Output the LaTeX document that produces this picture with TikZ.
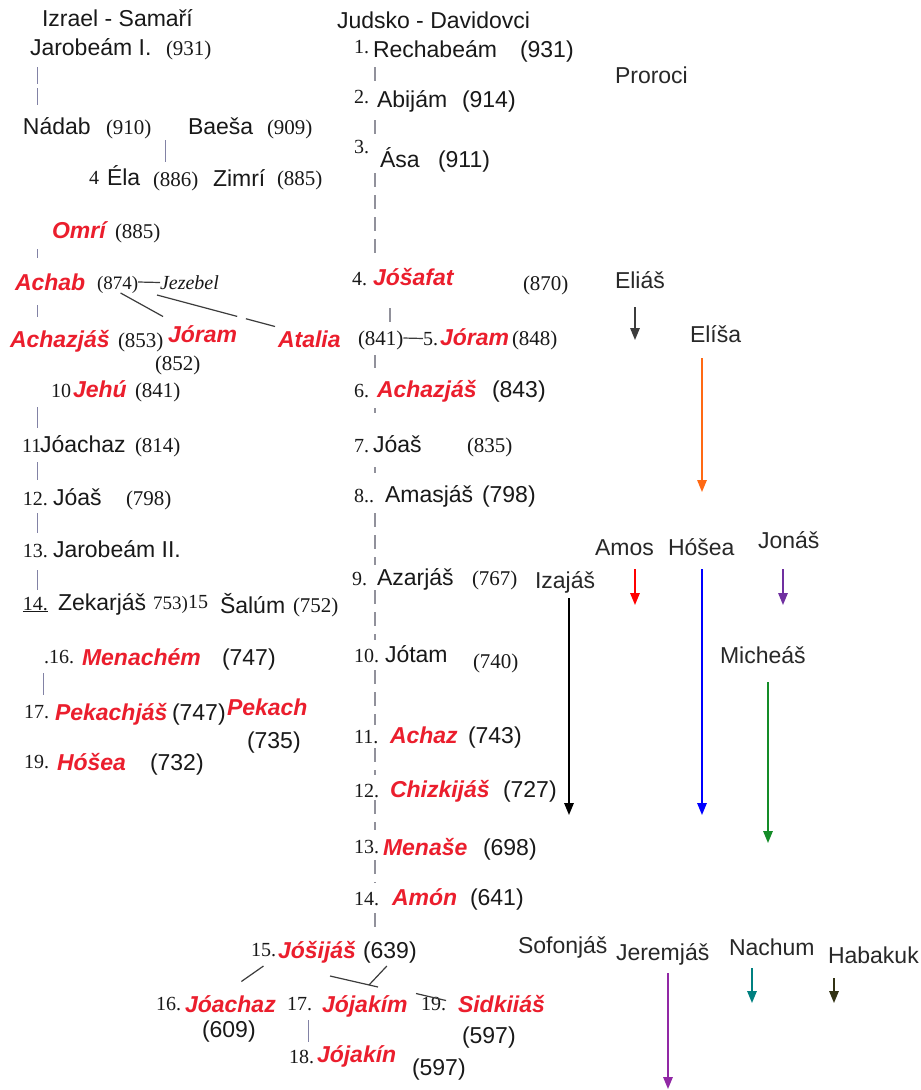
\documentclass[tikz,border=0pt]{standalone}
\usepackage{fontspec}
\setmainfont{Liberation Sans}
\newfontfamily\tms{Liberation Serif}
\usetikzlibrary{arrows.meta}
\definecolor{ink}{RGB}{25,25,25}
\definecolor{ink2}{RGB}{40,40,40}
\definecolor{kred}{RGB}{235,30,45}
\definecolor{tickc}{RGB}{130,130,165}
\definecolor{mline}{RGB}{145,145,155}
\definecolor{cnn}{RGB}{60,60,60}
\definecolor{corange}{RGB}{255,105,20}
\definecolor{cpurple}{RGB}{112,48,160}
\definecolor{cjer}{RGB}{145,40,165}
\definecolor{cgreen}{RGB}{20,140,40}
\definecolor{cteal}{RGB}{0,128,128}
\definecolor{colive}{RGB}{50,50,20}
\begin{document}
\begin{tikzpicture}[x=1pt,y=-1pt,
  every node/.style={anchor=base west,inner sep=0pt,outer sep=0pt},
  nm/.style={font=\fontsize{23}{27}\selectfont,text=ink,text height=16.5pt,text depth=0pt},
  ph/.style={nm,text=ink2},
  rd/.style={font=\fontsize{23}{27}\selectfont\bfseries\itshape,text=kred,text height=16.5pt,text depth=0pt},
  yr/.style={font=\tms\fontsize{21}{25}\selectfont,text=ink,text height=14pt,text depth=0pt},
  pr/.style={font=\tms\fontsize{20}{24}\selectfont,text=ink,text height=13pt,text depth=0pt},
  jz/.style={font=\tms\itshape\fontsize{20}{24}\selectfont,text=ink,text height=13pt,text depth=0pt},
  vt/.style={draw=tickc,line width=0.9pt},
  mv/.style={draw=mline,line width=1.1pt,dash pattern=on 14pt off 8pt},
  cn/.style={draw=cnn,line width=1.2pt},
  parr/.style={line width=1.5pt,-{Triangle[length=12pt,width=9.5pt]}}]
\fill[white] (0,0) rectangle (921,1090);
\useasboundingbox (0,0) rectangle (921,1090);

% headers
\node[nm] (hIs) at (42,26) {Izrael - Samaří};
\node[nm] (hJu) at (337,28) {Judsko - Davidovci};
\node[ph] (pror) at (615,83) {Proroci};

% Israel
\node[nm] (j1) at (30,55) {Jarobeám I.};
\node[yr] (j1y) at (166,55) {(931)};
\node[nm] (nad) at (23,134) {Nádab};
\node[yr] (nady) at (106,134) {(910)};
\node[nm] (bae) at (188,134) {Baeša};
\node[yr] (baey) at (267,134) {(909)};
\node[pr] (ela4) at (89,184) {4};
\node[nm] (ela) at (107,185) {Éla};
\node[yr] (elay) at (153,186) {(886)};
\node[nm] (zim) at (213,186) {Zimrí};
\node[yr] (zimy) at (277,185) {(885)};
\node[rd] (omri) at (52,238) {Omrí};
\node[yr] (omriy) at (115,238) {(885)};
\node[rd] (achab) at (15,290) {Achab};
\node[yr,font=\tms\fontsize{19}{23}\selectfont] (achaby) at (97,289) {(874)};
\node[jz] (jez) at (160,289) {Jezebel};
\node[rd] (achz) at (10,347) {Achazjáš};
\node[yr] (achzy) at (118,347) {(853)};
\node[rd] (joram) at (168,342) {Jóram};
\node[yr] (joramy) at (155,370) {(852)};
\node[rd] (atalia) at (278,347) {Atalia};
\node[yr] (atay) at (358,345) {(841)};
\node[pr] (jor5p) at (423,345) {5.};
\node[rd] (jor5) at (440,345) {Jóram};
\node[yr] (jor5y) at (512,345) {(848)};
\node[pr] (jehu10) at (51,397) {10};
\node[rd] (jehu) at (73,397) {Jehú};
\node[yr] (jehuy) at (135,397) {(841)};
\node[pr] (joach11) at (22,452) {11};
\node[nm] (joach) at (40,452) {Jóachaz};
\node[yr] (joachy) at (135,452) {(814)};
\node[pr] (joas12) at (23,505) {12.};
\node[nm] (joas) at (53,505) {Jóaš};
\node[yr] (joasy) at (126,505) {(798)};
\node[pr] (jar13) at (23,557) {13.};
\node[nm] (jar2) at (53,557) {Jarobeám II.};
\node[pr] (zek14) at (23,610) {\underline{14.}};
\node[nm] (zek) at (58,610) {Zekarjáš};
\node[yr,font=\tms\fontsize{19}{23}\selectfont] (zeky) at (153,609) {753)};
\node[pr] (sal15) at (188,608) {15};
\node[nm] (sal) at (220,613) {Šalúm};
\node[yr] (saly) at (293,612) {(752)};
\node[pr] (men16) at (44,663) {.16.};
\node[rd] (men) at (82,665) {Menachém};
\node[nm] (meny) at (222,665) {(747)};
\node[pr] (pek17) at (24,718) {17.};
\node[rd] (pek) at (55,720) {Pekachjáš};
\node[nm] (peky) at (172,720) {(747)};
\node[rd] (pekach) at (227,715) {Pekach};
\node[nm] (pekachy) at (247,748) {(735)};
\node[pr] (hos19) at (24,768) {19.};
\node[rd] (hos) at (57,770) {Hóšea};
\node[nm] (hosy) at (150,770) {(732)};

% Judah
\node[pr] (r1p) at (354,53) {1.};
\node[nm] (r1) at (373,57) {Rechabeám};
\node[nm] (r1y) at (520,57) {(931)};
\node[pr] (r2p) at (354,103) {2.};
\node[nm] (r2) at (377,107) {Abijám};
\node[nm] (r2y) at (462,107) {(914)};
\node[pr] (r3p) at (354,153) {3.};
\node[nm] (r3) at (380,167) {Ása};
\node[nm] (r3y) at (438,167) {(911)};
\node[pr] (r4p) at (352,285) {4.};
\node[rd] (r4) at (373,285) {Jóšafat};
\node[yr] (r4y) at (523,290) {(870)};
\node[pr] (r6p) at (354,397) {6.};
\node[rd] (r6) at (377,397) {Achazjáš};
\node[nm] (r6y) at (492,397) {(843)};
\node[pr] (r7p) at (354,452) {7.};
\node[nm] (r7) at (373,452) {Jóaš};
\node[yr] (r7y) at (467,452) {(835)};
\node[pr] (r8p) at (354,502) {8..};
\node[nm] (r8) at (385,502) {Amasjáš};
\node[nm] (r8y) at (482,502) {(798)};
\node[pr] (r9p) at (352,585) {9.};
\node[nm] (r9) at (377,585) {Azarjáš};
\node[yr] (r9y) at (472,585) {(767)};
\node[pr] (r10p) at (354,662) {10.};
\node[nm] (r10) at (385,662) {Jótam};
\node[yr] (r10y) at (473,668) {(740)};
\node[pr] (r11p) at (354,743) {11.};
\node[rd] (r11) at (390,743) {Achaz};
\node[nm] (r11y) at (468,743) {(743)};
\node[pr] (r12p) at (354,797) {12.};
\node[rd] (r12) at (390,797) {Chizkijáš};
\node[nm] (r12y) at (503,797) {(727)};
\node[pr] (r13p) at (354,853) {13.};
\node[rd] (r13) at (383,855) {Menaše};
\node[nm] (r13y) at (483,855) {(698)};
\node[pr] (r14p) at (354,905) {14.};
\node[rd] (r14) at (392,905) {Amón};
\node[nm] (r14y) at (470,905) {(641)};
\node[pr] (r15p) at (251,956) {15.};
\node[rd] (r15) at (278,958) {Jóšijáš};
\node[nm] (r15y) at (363,958) {(639)};
\node[pr] (r16p) at (156,1010) {16.};
\node[rd] (r16) at (185,1012) {Jóachaz};
\node[nm] (r16y) at (202,1037) {(609)};
\node[pr] (r17p) at (287,1010) {17.};
\node[rd] (r17) at (322,1012) {Jójakím};
\node[pr] (r19p) at (421,1010) {19.};
\node[rd] (r19) at (458,1012) {Sidkiiáš};
\node[nm] (r19y) at (462,1043) {(597)};
\node[pr] (r18p) at (289,1063) {18.};
\node[rd] (r18) at (317,1062) {Jójakín};
\node[nm] (r18y) at (412,1075) {(597)};

% prophets
\node[ph] (eli) at (615,288) {Eliáš};
\node[ph] (elisa) at (690,342) {Elíša};
\node[ph] (amos) at (595,555) {Amos};
\node[ph] (hosea) at (668,555) {Hóšea};
\node[ph] (jonas) at (758,548) {Jonáš};
\node[ph] (iza) at (535,588) {Izajáš};
\node[ph] (mich) at (720,663) {Micheáš};
\node[ph] (sof) at (518,953) {Sofonjáš};
\node[ph] (jer) at (616,960) {Jeremjáš};
\node[ph] (nach) at (729,955) {Nachum};
\node[ph] (hab) at (828,963) {Habakuk};

% column coordinates
\coordinate (Lx) at (37,0);
\coordinate (Lx2) at (43,0);
\coordinate (Bx) at (165,0);
\coordinate (Mx) at (375,0);
\coordinate (Mx2) at (390,0);
\coordinate (Jx) at (308,0);

% Israel ticks
\draw[vt,dash pattern=on 17pt off 4pt,shorten <=12pt,shorten >=13pt] (j1.south -| Lx) -- (nad.north -| Lx);
\draw[vt,shorten <=6pt,shorten >=10pt] (bae.south -| Bx) -- (elay.north -| Bx);
\draw[vt,shorten <=11pt,shorten >=16pt] (omri.south -| Lx) -- (achab.north -| Lx);
\draw[vt,shorten <=15pt,shorten >=14pt] (achab.south -| Lx) -- (achz.north -| Lx);
\draw[vt,shorten <=10pt,shorten >=8pt] (jehu.south -| Lx) -- (joach.north -| Lx);
\draw[vt,shorten <=10pt,shorten >=9pt] (joach.south -| Lx) -- (joas.north -| Lx);
\draw[vt,shorten <=8pt,shorten >=8pt] (joas.south -| Lx) -- (jar2.north -| Lx);
\draw[vt,shorten <=13pt,shorten >=4pt] (jar2.south -| Lx) -- (zek.north -| Lx);
\draw[vt,shorten <=8pt,shorten >=9pt] (men.south -| Lx2) -- (pek.north -| Lx2);

% Judah line
\draw[mv,shorten <=10pt,shorten >=9pt] (r1.south -| Mx) -- (r2.north -| Mx);
\draw[mv,shorten <=13pt,shorten >=14pt] (r2.south -| Mx) -- (r3.north -| Mx);
\draw[mv,shorten <=6pt,shorten >=9pt] (r3.south -| Mx) -- (r4.north -| Mx);
\draw[mv,shorten <=23pt,shorten >=9pt] (r4.south -| Mx2) -- (atay.north -| Mx2);
\draw[mv,shorten <=10pt,shorten >=13pt] (atay.south -| Mx) -- (r6.north -| Mx);
\draw[mv,shorten <=11pt,shorten >=23pt] (r6.south -| Mx) -- (r7.north -| Mx);
\draw[mv,shorten <=15pt,shorten >=13pt] (r7.south -| Mx) -- (r8.north -| Mx);
\draw[mv,shorten <=11pt,shorten >=4pt] (r8.south -| Mx) -- (r9.north -| Mx);
\draw[mv,shorten <=5pt,shorten >=6pt] (r9.south -| Mx) -- (r10.north -| Mx);
\draw[mv,shorten <=8pt,shorten >=2pt] (r10.south -| Mx) -- (r11.north -| Mx);
\draw[mv,shorten <=5pt,shorten >=6pt] (r11.south -| Mx) -- (r12.north -| Mx);
\draw[mv,shorten <=3pt,shorten >=9pt] (r12.south -| Mx) -- (r13.north -| Mx);
\draw[mv,shorten <=5pt,shorten >=6pt] (r13.south -| Mx) -- (r14.north -| Mx);
\draw[mv,shorten <=8pt,shorten >=10pt] (r14.south -| Mx) -- (r15y.north -| Mx);
\draw[vt,shorten <=10pt,shorten >=8pt] (r17p.south -| Jx) -- (r18p.north -| Jx);

% family connectors
\draw[cn] (achaby.east) -- (jez.west);
\draw[cn] (atay.east) -- (jor5p.west);
\draw[cn] ([xshift=3pt,yshift=-4pt]achaby.south) -- ([xshift=-5pt,yshift=9pt]joram.north west);
\draw[cn,dash pattern=on 83pt off 9pt on 60pt] ([xshift=-3pt,yshift=-6pt]jez.south west) -- ([xshift=-3pt,yshift=4pt]atalia.north west);
\draw[cn] ([yshift=-10pt]r15p.south) -- ([xshift=11pt,yshift=14pt]r16.north);
\coordinate (jn) at (369,985);
\coordinate (jc) at (330,976);
\coordinate (jn2) at (378,987);
\draw[cn] ([xshift=-3pt,yshift=-8pt]r15y.south) -- (jn);
\draw[cn] (jc) -- (jn2);
\draw[cn] ([xshift=-5pt,yshift=10pt]r19p.west) -- ([yshift=3pt]r19p.east);

% prophet arrows
\coordinate (aEli) at (635,340);
\draw[parr,color=cnn,shorten <=19pt] (eli.south -| aEli) -- (aEli);
\coordinate (aEls) at (702,492);
\draw[parr,color=corange,shorten <=16pt] (elisa.south -| aEls) -- (aEls);
\coordinate (aAm) at (635,605);
\draw[parr,color=red,shorten <=14pt] (amos.south -| aAm) -- (aAm);
\coordinate (aHo) at (702,815);
\draw[parr,color=blue,shorten <=14pt] (hosea.south -| aHo) -- (aHo);
\coordinate (aJo) at (783,605);
\draw[parr,color=cpurple,shorten <=21pt] (jonas.south -| aJo) -- (aJo);
\coordinate (aIz) at (569,815);
\draw[parr,color=black,shorten <=10pt] (iza.south -| aIz) -- (aIz);
\coordinate (aMi) at (768,843);
\draw[parr,color=cgreen,shorten <=19pt] (mich.south -| aMi) -- (aMi);
\coordinate (aJe) at (668,1089);
\draw[parr,color=cjer,shorten <=13pt] (jer.south -| aJe) -- (aJe);
\coordinate (aNa) at (752,1003);
\draw[parr,color=cteal,shorten <=13pt] (nach.south -| aNa) -- (aNa);
\coordinate (aHa) at (834,1003);
\draw[parr,color=colive,shorten <=15pt] (hab.south -| aHa) -- (aHa);
\end{tikzpicture}
\end{document}
